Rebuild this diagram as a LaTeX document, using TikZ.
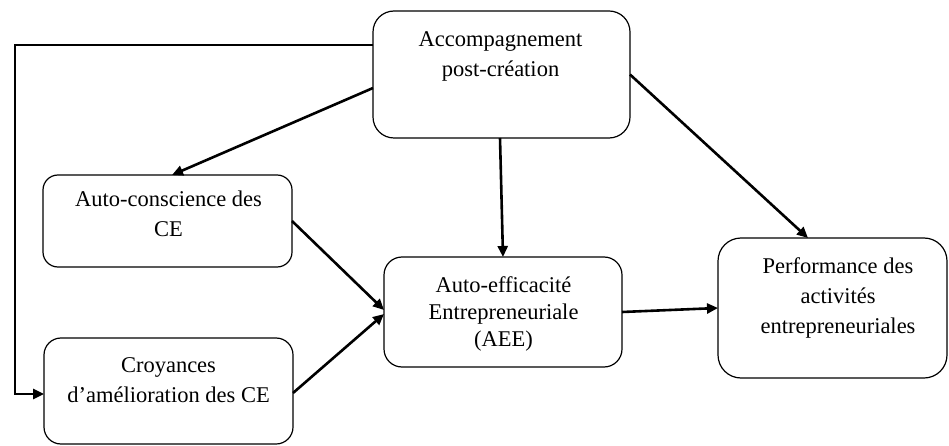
\documentclass[tikz,border=0pt]{standalone}
\usepackage{fontspec}
\setmainfont{Liberation Serif}
\usetikzlibrary{arrows.meta}
\begin{document}
\begin{tikzpicture}[x=1pt,y=-1pt,
  box/.style={draw=black, line width=1.2pt, rectangle, inner sep=0pt, outer sep=0pt},
  txt/.style={anchor=base, inner sep=0pt, font=\fontsize{22.5}{30}\selectfont},
  txtd/.style={anchor=base, inner sep=0pt, font=\fontsize{22.5}{27}\selectfont},
  arr/.style={line width=2.6pt, -{Triangle[length=11pt,width=10pt]}}]
\useasboundingbox (0,0) rectangle (949,446);
% boxes
\node[box, minimum width=257pt, minimum height=127pt, rounded corners=21pt] (acc) at (501.5,74.5) {};
\node[box, minimum width=249pt, minimum height=92pt, rounded corners=15pt] (aw) at (167.5,221) {};
\node[box, minimum width=249pt, minimum height=106pt, rounded corners=17pt] (cr) at (168.5,391) {};
\node[box, minimum width=238pt, minimum height=110pt, rounded corners=18pt] (aee) at (503,312) {};
\node[box, minimum width=229pt, minimum height=140pt, rounded corners=23pt] (perf) at (832.5,308) {};
% texts
\node[txt] (acc-t) at (500.5,47) {\begin{tabular}[t]{@{}c@{}}Accompagnement\\post-création\end{tabular}};
\node[txt] (aw-t) at (168.5,207) {\begin{tabular}[t]{@{}c@{}}Auto-conscience des\\CE\end{tabular}};
\node[txt] (cr-t) at (168.5,372) {\begin{tabular}[t]{@{}c@{}}Croyances\\d’amélioration des CE\end{tabular}};
\node[txtd] (aee-t) at (503.5,292) {\begin{tabular}[t]{@{}c@{}}Auto-efficacité\\Entrepreneuriale\\(AEE)\end{tabular}};
\node[txt] (perf-t) at (838,273) {\begin{tabular}[t]{@{}c@{}}Performance des\\activités\\entrepreneuriales\end{tabular}};
% connectors
\coordinate (lc) at (15,394);
\draw[arr] ([yshift=29.5pt]acc.west) -| (lc) -- (lc -| cr.west);
\draw[arr] ([yshift=-13.5pt]acc.west) -- ([xshift=4.5pt]aw.north);
\draw[arr] ([xshift=-1.5pt]acc.south) -- (aee.north);
\draw[arr] (acc.east) -- ([xshift=-24.5pt]perf.north);
\draw[arr] (aw.east) -- ([yshift=2pt]aee.west);
\draw[arr] ([yshift=-2pt]cr.east) -- ([yshift=-2pt]aee.west);
\draw[arr] (aee.east) -- (perf.west);
\end{tikzpicture}
\end{document}
